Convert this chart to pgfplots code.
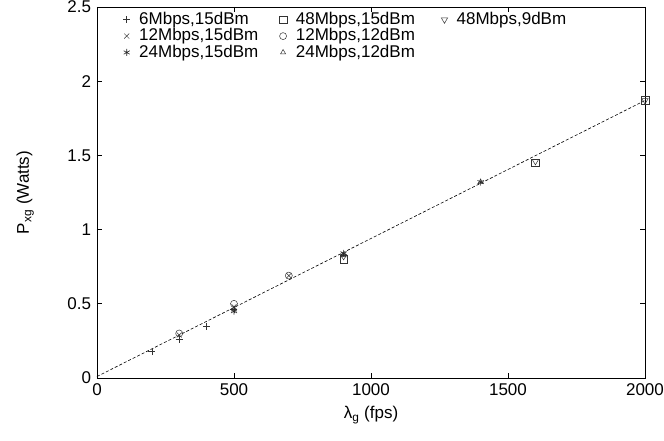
\documentclass[border=0pt]{standalone}
\usepackage{pgfplots}
\pgfplotsset{compat=1.18}
\usepackage{fontspec}
\setmainfont{Liberation Sans}
\begin{document}
\fontsize{17}{20}\selectfont
\begin{tikzpicture}
\begin{axis}[
  scale only axis,
  width=548pt, height=371pt,
  xmin=0, xmax=2000, ymin=0, ymax=2.5,
  xtick={0,500,1000,1500,2000},
  ytick={0,0.5,1,1.5,2,2.5},
  /pgf/number format/assume math mode=true,
  /pgf/number format/1000 sep={},
  ticklabel style={font=\fontsize{17}{20}\selectfont},
  label style={font=\fontsize{17}{20}\selectfont},
  xlabel={λ\textsubscript{g} (fps)},
  ylabel={P\textsubscript{xg} (Watts)},
  xlabel style={yshift=1pt},
  ylabel shift=22pt,
  major tick length=5pt,
  tick style={black, line width=0.6pt},
  axis line style={line width=0.8pt},
  legend cell align=left,
  legend columns=3,
  legend style={draw=none, fill=none, at={(rel axis cs:0.042,0.997)}, anchor=north west,
    font=\fontsize{17}{19}\selectfont, row sep=-2.5pt,
    /tikz/every odd column/.append style={column sep=7pt},
    /tikz/every even column/.append style={column sep=19pt}},
  legend image code/.code={\draw[#1] plot coordinates {(0.3cm,0cm)};},
]
\addplot[only marks, black!80, line width=0.5pt, mark=+, mark size=3.5pt] coordinates {(200,0.18) (300,0.26) (400,0.35) (500,0.46)};
\addlegendentry{6Mbps,15dBm}
\addplot[only marks, black!80, line width=0.5pt, mark=square, mark size=3.8pt] coordinates {(900,0.80) (1600,1.45) (2000,1.87)};
\addlegendentry{48Mbps,15dBm}
\addplot[only marks, black!80, line width=0.5pt, mark=triangle, mark options={rotate=180}, mark size=3.6pt] coordinates {(900,0.82) (1600,1.46) (2000,1.87)};
\addlegendentry{48Mbps,9dBm}
\addplot[only marks, black!80, line width=0.5pt, mark=x, mark size=3.5pt] coordinates {(300,0.29) (500,0.48) (700,0.69) (900,0.83)};
\addlegendentry{12Mbps,15dBm}
\addplot[only marks, black!80, line width=0.5pt, mark=o, mark size=3.5pt] coordinates {(300,0.30) (500,0.50) (700,0.69)};
\addlegendentry{12Mbps,12dBm}
\addlegendimage{empty legend}
\addlegendentry{}
\addplot[only marks, black!85, line width=0.6pt, mark=asterisk, mark size=3.5pt] coordinates {(500,0.45) (900,0.84) (1400,1.32)};
\addlegendentry{24Mbps,15dBm}
\addplot[only marks, black!80, line width=0.5pt, mark=triangle, mark size=3pt] coordinates {(500,0.46) (900,0.83) (1400,1.32)};
\addlegendentry{24Mbps,12dBm}
\addplot[black, no marks, forget plot, line width=0.6pt, dash pattern=on 3pt off 2pt] coordinates {(0,0.01) (2000,1.87)};
\end{axis}
\pgfresetboundingbox
\path[use as bounding box] ([shift={(-97pt,-63pt)}]current axis.south west) rectangle ([shift={(19pt,7pt)}]current axis.north east);
\end{tikzpicture}
\end{document}
